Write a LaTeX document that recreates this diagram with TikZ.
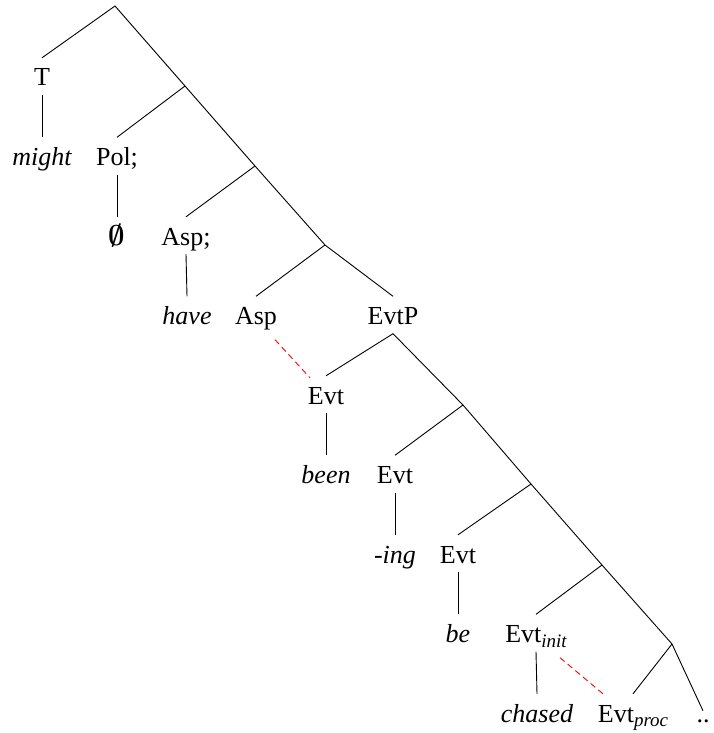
\documentclass[tikz,border=0pt]{standalone}
\usepackage{fix-cm}
\usepackage{fontspec}
\setmainfont{Liberation Serif}
\usetikzlibrary{calc}
\newcommand{\subsc}[1]{\raisebox{-4.5pt}{\fontsize{19}{20}\selectfont\itshape #1}}
\begin{document}
\begin{tikzpicture}[x=1pt,y=-1pt,
  tx/.style={anchor=base, inner xsep=1pt, inner ysep=9pt, text height=19pt, text depth=0pt,
    font=\fontsize{26}{30}\selectfont},
  it/.style={tx, font=\fontsize{26}{30}\selectfont\itshape},
  edge/.style={line width=0.9pt, black},
  reddash/.style={line width=0.9pt, red, dash pattern=on 6pt off 4pt}]
\useasboundingbox (0,0) rectangle (714,733);
% branching points
\coordinate (top) at (115,6);
\coordinate (b1) at (185,86);
\coordinate (b2) at (255,166);
\coordinate (b3) at (325,245);
\coordinate (b4) at (463,405);
\coordinate (b5) at (531,484);
\coordinate (b6) at (602,565);
\coordinate (b7) at (672,644);
% nodes
\node[tx] (T) at (42,86) {T};
\node[it] (might) at (42,165.5) {might};
\node[tx] (Pol) at (117,165.5) {Pol;};
\node[tx] (empty) at (117,245) {\scalebox{1.1}{\boldmath$\emptyset$}};
\node[tx] (Asp1) at (186,245) {Asp;};
\node[it] (have) at (187,324.5) {have};
\node[tx] (Asp2) at (256,324.5) {Asp};
\node[tx] (EvtP) at (393,324.5) {EvtP};
\node[tx] (Evt1) at (326,404) {Evt};
\node[it] (been) at (326,483.5) {been};
\node[tx] (Evt2) at (395,483.5) {Evt};
\node[it] (ing) at (395,563) {-ing};
\node[tx] (Evt3) at (458,563) {Evt};
\node[it] (be) at (458,642.5) {be};
\node[tx] (Evtinit) at (536,642.5) {Evt\subsc{init}};
\node[it] (chased) at (537,722) {chased};
\node[tx] (Evtproc) at (633,722) {Evt\subsc{proc}};
\node[tx, text height=2pt] (dots) at (703,722) {..};
% edges
\draw[edge] (T.north) -- (top) -- (b1) -- (b2) -- (b3) -- (EvtP.north);
\draw[edge] (b1) -- (Pol.north);
\draw[edge] (b2) -- (Asp1.north);
\draw[edge] (b3) -- (Asp2.north);
\draw[edge] (T.south) -- (might.north);
\draw[edge] (Pol.south) -- (empty.north);
\draw[edge] (Asp1.south) -- (have.north);
\draw[edge] (Evt1.north) -- (EvtP.south) -- (b4) -- (b5) -- (b6) -- (b7) -- (dots.north);
\draw[edge] (b4) -- (Evt2.north);
\draw[edge] (b5) -- (Evt3.north);
\draw[edge] (b6) -- (Evtinit.north);
\draw[edge] (b7) -- (Evtproc.north);
\draw[edge] (Evt1.south) -- (been.north);
\draw[edge] (Evt2.south) -- (ing.north);
\draw[edge] (Evt3.south) -- (be.north);
\draw[edge] (Evtinit.south) -- (chased.north);
% red dashed
\draw[reddash] ($(Asp2.south)+(19,6)$) -- ($(Evt1.north)+(-16,2)$);
\draw[reddash] ($(Evtinit.south)+(24,6)$) -- ($(Evtproc.north)+(-30,0)$);
\end{tikzpicture}
\end{document}
